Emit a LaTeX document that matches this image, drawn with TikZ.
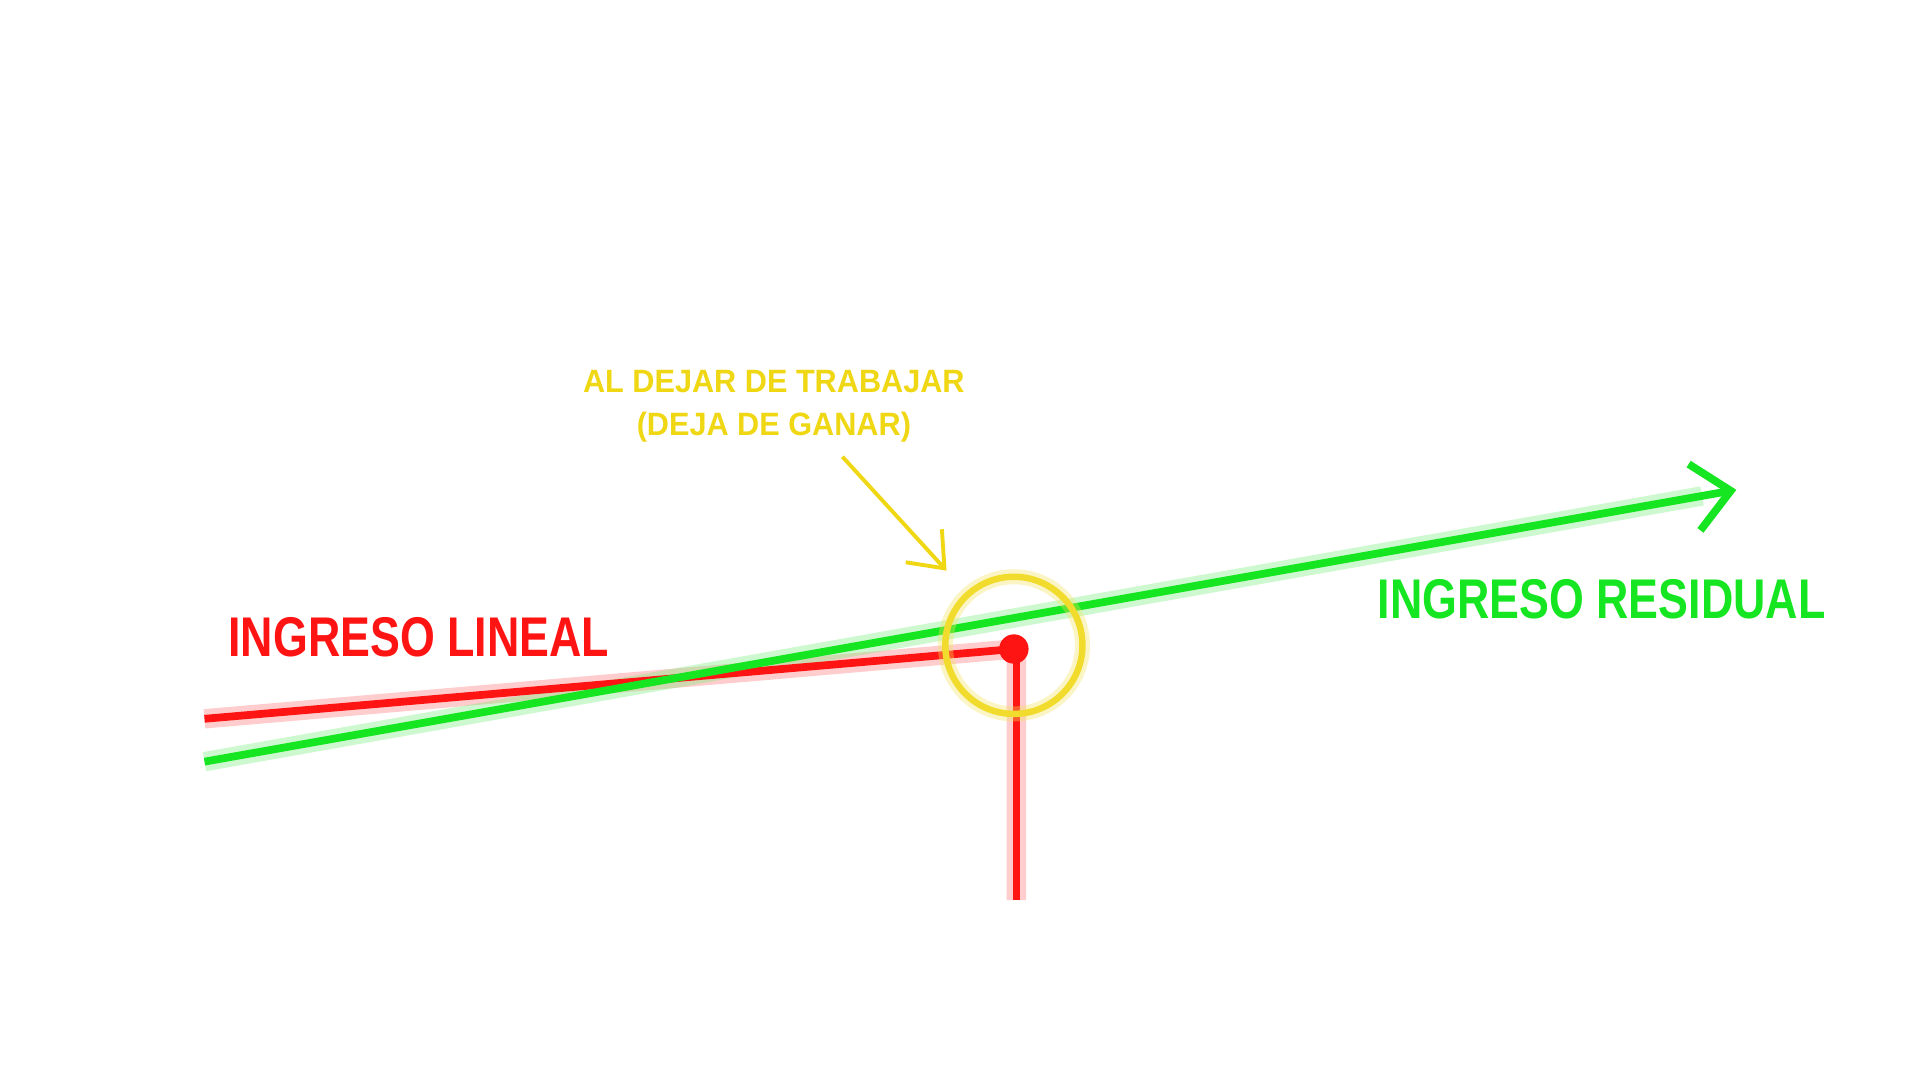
\documentclass[tikz,border=0pt]{standalone}
\usepackage{fontspec}
\setmainfont{Liberation Sans}
\usetikzlibrary{arrows.meta}
\definecolor{gr}{RGB}{22,230,34}
\definecolor{rd}{RGB}{255,20,20}
\definecolor{yl}{RGB}{240,215,20}
\tikzset{
 glowg/.style={draw=gr!60,opacity=0.35,line width=4.5pt},
 glowr/.style={draw=rd!60,opacity=0.35,line width=4.5pt},
 lbl/.style={font=\bfseries, inner sep=0pt},
}
\begin{document}
\begin{tikzpicture}[x=1cm,y=-1cm]
\fill[white] (0,0) rectangle (15.68,8.82);
\useasboundingbox (0,0) rectangle (15.68,8.82);
\coordinate (gs) at (1.67,6.22);
\coordinate (ge) at (14.18,4.00);
\coordinate (rs) at (1.67,5.87);
\coordinate (rp) at (8.28,5.30);
\coordinate (rb) at (8.30,7.35);
\coordinate (as) at (6.88,3.73);
\coordinate (ae) at (7.73,4.66);
% glows
\draw[glowr] (rs) -- (rp) -- (8.30,5.30) -- (rb);
\draw[glowg] (gs) -- (13.9,4.05);
% red
\draw[rd,line width=1.8pt] (rs) -- (rp);
\draw[rd,line width=1.5pt] (8.30,5.30) -- (rb);
\node[circle,fill=rd,minimum size=0.24cm,inner sep=0pt] (dot) at (rp) {};
% green
\draw[gr,line width=1.8pt,-{Straight Barb[length=0.3cm,width=0.55cm,line width=1.8pt]}] (gs) -- (ge);
% yellow circle
\node[circle,draw=yl,line width=1.5pt,minimum size=1.12cm,inner sep=0pt] (ring) at (8.28,5.27) {};
\draw[yl!70,opacity=0.35,line width=3.5pt] (ring.center) circle (0.56);
% yellow arrow
\draw[yl,line width=0.9pt,-{Straight Barb[length=0.25cm,width=0.4cm,line width=0.9pt]}] (as) -- (ae);
% texts
\node[lbl,text=yl,font=\bfseries\fontsize{7.5}{9}\selectfont,align=center,xscale=0.95] (note) at (6.32,3.32) {AL DEJAR DE TRABAJAR\\[1pt](DEJA DE GANAR)};
\node[lbl,text=rd,font=\bfseries\fontsize{13}{15}\selectfont,xscale=0.8] (lin) at (3.42,5.20) {INGRESO LINEAL};
\node[lbl,text=gr,font=\bfseries\fontsize{13}{15}\selectfont,xscale=0.8] (res) at (13.08,4.89) {INGRESO RESIDUAL};
\end{tikzpicture}
\end{document}
